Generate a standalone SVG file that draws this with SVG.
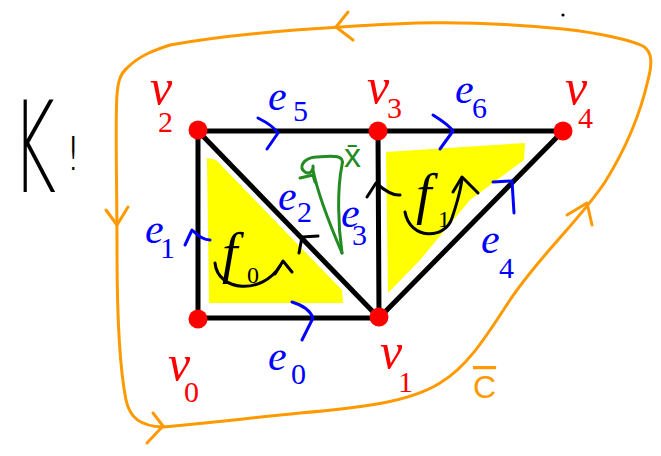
<svg xmlns="http://www.w3.org/2000/svg" width="661" height="456" viewBox="0 0 661 456">
<style>
.edge{stroke:#000;stroke-width:5;stroke-linecap:round}
.tick{fill:none;stroke:#0000ff;stroke-width:3;stroke-linecap:round;stroke-linejoin:round}
.vdot{fill:#ff0000}
.vl{font-family:"Liberation Serif",serif;font-style:italic;font-size:50px;fill:#ff0000}
.el{font-family:"Liberation Serif",serif;font-style:italic;font-size:42px;fill:#0000ff}
.sub{font-size:30px;font-style:normal}
.fl{font-family:"Liberation Serif",serif;font-style:italic;font-size:56px;fill:#000}
.fsub{font-size:24px;font-style:normal}
.rot{fill:none;stroke:#000;stroke-width:3;stroke-linecap:round;stroke-linejoin:round}
.yel{fill:#ffff00}
.orange{fill:none;stroke:#ff9900;stroke-width:3;stroke-linecap:round;stroke-linejoin:round}
.green{fill:none;stroke:#228b22;stroke-width:3;stroke-linecap:round;stroke-linejoin:round}
</style>

<text id="title" x="12" y="192" font-family="'DejaVu Sans',sans-serif" font-weight="200" fill="#000"><tspan font-size="126px" textLength="44" lengthAdjust="spacingAndGlyphs">K</tspan><tspan x="64" y="170" font-size="46px">!</tspan></text>

<circle cx="563" cy="15" r="1.6" fill="#000"/>

<g id="boundary">
<path class="orange" d="M127,68 C140,55 155,50 170,45 C220,36 290,30 341,27 C400,23 460,19 563,29 C600,33 630,40 643,46 C653,52 652,65 648,80 C640,115 625,150 605,182 C580,220 540,255 510,300 C490,330 470,365 440,383 C410,402 360,408 300,413 C250,418 200,424 163,427 C140,426 130,418 126,400 C120,370 117,320 117,250 C117,180 115,120 117,95 C118,82 120,74 127,68 Z"/>
<path class="orange" d="M348,12 L336,27 L353,40"/>
<path class="orange" d="M106,210 L117,225 L128,207"/>
<path class="orange" d="M153,413 L163,426 L147,443"/>
<path class="orange" d="M567,215 L587,203 L592,225"/>
<text x="473" y="398" font-family="'Liberation Sans',sans-serif" font-size="32px" fill="#ff9900" text-decoration="overline">C</text>
</g>

<g id="f0">
<polygon class="yel" points="207,158 216,160 342,290 343,303 209,303"/>
<text class="fl" x="222" y="272">f<tspan class="fsub" x="247" y="283">0</tspan></text>
<path class="rot" d="M215,263 C218,292 262,295 280,266"/>
<path class="rot" d="M275,274 L283,261 L292,272"/>
</g>

<g id="f1">
<polygon class="yel" points="386,152 525,143 524,160 470,200 420,260 388,293"/>
<text class="fl" x="416" y="213">f<tspan class="fsub" x="438" y="227">1</tspan></text>
<path class="rot" d="M405,212 C410,240 445,240 452,218 C458,200 461,190 462,178"/>
<path class="rot" d="M453,192 L462,177 L478,193"/>
</g>

<g id="connectors">
<g id="e0">
<line class="edge" x1="198" y1="318" x2="379" y2="318"/>
<path class="tick" d="M292,302 C302,305 310,310 313,318 L302,340"/>
<text class="el" x="268" y="370">e<tspan class="sub" x="291" y="384">0</tspan></text>
</g>
<g id="e1">
<line class="edge" x1="198" y1="318" x2="198" y2="131"/>
<path class="tick" d="M185,245 L192,230 C198,236 204,240 210,240"/>
<text class="el" x="145" y="243">e<tspan class="sub" x="160" y="258">1</tspan></text>
</g>
<g id="e2">
<line class="edge" x1="379" y1="318" x2="198" y2="131"/>
<path class="tick" d="M299,253 L302,237 L318,236" style="stroke:#000"/>
<text class="el" x="278" y="210">e<tspan class="sub" x="297" y="222">2</tspan></text>
</g>
<g id="e3">
<line class="edge" x1="379" y1="318" x2="378" y2="131"/>
<path class="tick" d="M367,197 L376,183 C384,190 392,196 400,195" style="stroke:#000"/>
<text class="el" x="341" y="227">e<tspan class="sub" x="352" y="245">3</tspan></text>
</g>
<g id="e4">
<line class="edge" x1="379" y1="318" x2="563" y2="131"/>
<path class="tick" d="M493,182 L512,181 L514,213"/>
<text class="el" x="481" y="253">e<tspan class="sub" x="499" y="278">4</tspan></text>
</g>
<g id="e5">
<line class="edge" x1="198" y1="131" x2="378" y2="131"/>
<path class="tick" d="M258,118 C266,122 274,127 278,133 L267,149"/>
<text class="el" x="268" y="110">e<tspan class="sub" x="293" y="121">5</tspan></text>
</g>
<g id="e6">
<line class="edge" x1="378" y1="131" x2="563" y2="131"/>
<path class="tick" d="M433,115 C441,120 449,125 453,131 L440,149"/>
<text class="el" x="455" y="103">e<tspan class="sub" x="472" y="118">6</tspan></text>
</g>
</g>

<g id="xbar">
<path class="green" d="M342,253 C338,225 337,190 342,165 C345,154 332,156 316,157 C303,158 298,168 305,172 C310,175 314,170 313,166"/>
<path class="green" d="M313,170 C318,195 330,225 342,253"/>
<path class="green" d="M300,178 L313,175 L315,182"/>
<text x="344" y="167" font-family="'Liberation Sans',sans-serif" font-size="34px" fill="#228b22">x̄</text>
</g>

<g id="v0"><circle class="vdot" cx="198" cy="319" r="9.5"/><text class="vl" x="168" y="380">v<tspan class="sub" x="184" y="402">0</tspan></text></g>
<g id="v1"><circle class="vdot" cx="379" cy="317" r="9.5"/><text class="vl" x="380" y="368">v<tspan class="sub" x="398" y="392">1</tspan></text></g>
<g id="v2"><circle class="vdot" cx="198" cy="130" r="9.5"/><text class="vl" x="150" y="104">v<tspan class="sub" x="158" y="132">2</tspan></text></g>
<g id="v3"><circle class="vdot" cx="378" cy="131" r="9.5"/><text class="vl" x="367" y="103">v<tspan class="sub" x="387" y="118">3</tspan></text></g>
<g id="v4"><circle class="vdot" cx="563" cy="131" r="9.5"/><text class="vl" x="565" y="104">v<tspan class="sub" x="578" y="128">4</tspan></text></g>
</svg>
